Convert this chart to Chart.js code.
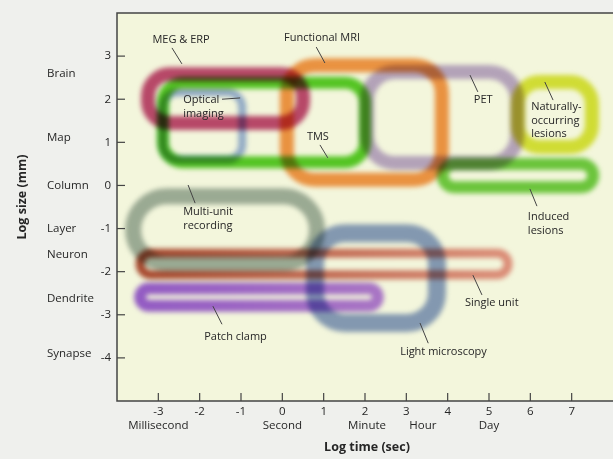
<!DOCTYPE html>
<html>
<head>
<meta charset="utf-8">
<script src="https://cdn.jsdelivr.net/npm/chart.js@4"></script>
<style>
  html, body { margin: 0; padding: 0; background: #eff0ed; }
  canvas { display: block; }
</style>
</head>
<body>
<canvas id="chart" width="613" height="459"></canvas>
<script>
// Techniques and the range each covers: log time (sec) and log size (mm)
const techniques = ["MEG & ERP", "Optical imaging", "TMS", "Functional MRI", "PET",
  "Naturally-occurring lesions", "Induced lesions", "Multi-unit recording",
  "Light microscopy", "Single unit", "Patch clamp"];
const timeMin = [-3.25, -2.89, -2.89, 0.11, 2.05, 5.70, 3.88, -3.61, 0.79, -3.44, -3.44];
const timeMax = [0.50, -0.97, 2.00, 3.86, 5.68, 7.49, 7.52, 0.84, 3.74, 5.46, 2.31];
const sizeMin = [1.45, 0.60, 0.54, 0.13, 0.52, 0.89, -0.04, -1.81, -3.19, -2.07, -2.79];
const sizeMax = [2.58, 2.16, 2.38, 2.79, 2.63, 2.40, 0.50, -0.25, -1.11, -1.57, -2.39];

const xTicks = [-3, -2, -1, 0, 1, 2, 3, 4, 5, 6, 7];
const yTicks = [3, 2, 1, 0, -1, -2, -3, -4];
const timeUnits = ["Millisecond", "Second", "Minute", "Hour", "Day"];
const timeUnitAt = [-3, 0, 2.05, 3.4, 5];
const sizeUnits = ["Brain", "Map", "Column", "Layer", "Neuron", "Dendrite", "Synapse"];
const sizeUnitAt = [2.6, 1.1, 0, -1, -1.6, -2.62, -3.9];

// look of each band (same order as techniques)
const bandStart = ["#c04a78", "#98b0e4", "#58cc28", "#f5974a", "#bca8d6", "#dbe43c", "#70cc44", "#a2b0aa", "#8a9ecc", "#b04c36", "#9a5ee2"];
const bandEnd   = ["#c04a78", "#98b0e4", "#58cc28", "#f5974a", "#bca8d6", "#dbe43c", "#70cc44", "#a2b0aa", "#8a9ecc", "#e6928a", "#b078e4"];
const bandWidth = [14, 8, 12, 14, 14, 14, 12, 16, 18, 9, 12];
const bandRadius = [22, 15, 20, 28, 28, 22, 12, 36, 30, 11, 10];

// callout labels: text lines, anchor (data units), alignment, leader line
const notes = [
  { lines: ["MEG & ERP"], x: -2.45, y: 3.37, align: "center", lead: [-2.67, 3.19, -2.43, 2.82] },
  { lines: ["Functional MRI"], x: 0.96, y: 3.42, align: "center", lead: [0.82, 3.21, 1.03, 2.84] },
  { lines: ["Optical", "imaging"], x: -2.40, y: 1.98, align: "left", lead: [-1.46, 2.0, -1.02, 2.03] },
  { lines: ["TMS"], x: 0.86, y: 1.12, align: "center", lead: [0.91, 0.94, 1.10, 0.64] },
  { lines: ["PET"], x: 4.86, y: 1.98, align: "center", lead: [4.54, 2.56, 4.73, 2.17] },
  { lines: ["Naturally-", "occurring", "lesions"], x: 6.02, y: 1.82, align: "left", lead: [6.35, 2.40, 6.55, 1.98] },
  { lines: ["Induced", "lesions"], x: 5.94, y: -0.73, align: "left", lead: [5.99, -0.08, 6.16, -0.48] },
  { lines: ["Multi-unit", "recording"], x: -2.40, y: -0.62, align: "left", lead: [-2.28, 0.01, -2.11, -0.41] },
  { lines: ["Single unit"], x: 4.42, y: -2.73, align: "left", lead: [4.61, -2.08, 4.83, -2.54] },
  { lines: ["Patch clamp"], x: -1.89, y: -3.51, align: "left", lead: [-1.68, -2.80, -1.46, -3.22] },
  { lines: ["Light microscopy"], x: 2.85, y: -3.86, align: "left", lead: [3.33, -3.19, 3.53, -3.66] }
];

const FONT = "'Open Sans', 'Noto Sans', sans-serif";
const INK = "#262626";

function roundedRect(ctx, x0, y0, x1, y1, r) {
  r = Math.min(r, (x1 - x0) / 2, (y1 - y0) / 2);
  ctx.beginPath();
  ctx.moveTo(x0 + r, y0);
  ctx.arcTo(x1, y0, x1, y1, r);
  ctx.arcTo(x1, y1, x0, y1, r);
  ctx.arcTo(x0, y1, x0, y0, r);
  ctx.arcTo(x0, y0, x1, y0, r);
  ctx.closePath();
}

// one dataset per technique: its two opposite corners
const datasets = techniques.map(function (name, i) {
  return {
    label: name,
    data: [{ x: timeMin[i], y: sizeMax[i] }, { x: timeMax[i], y: sizeMin[i] }],
    pointRadius: 0,
    showLine: false
  };
});

const bandsPlugin = {
  id: "bands",
  beforeDraw(chart) {
    const ctx = chart.ctx, a = chart.chartArea;
    ctx.save();
    ctx.fillStyle = "#eff0ed";
    ctx.fillRect(0, 0, chart.width, chart.height);
    ctx.fillStyle = "#f3f6dc";
    ctx.fillRect(a.left, a.top, a.right - a.left, a.bottom - a.top);
    ctx.restore();
  },
  afterDatasetsDraw(chart) {
    const ctx = chart.ctx;
    ctx.save();
    ctx.globalCompositeOperation = "multiply";
    ctx.filter = "blur(2.8px)";
    chart.data.datasets.forEach(function (ds, i) {
      const meta = chart.getDatasetMeta(i);
      const p0 = meta.data[0], p1 = meta.data[1];
      const x0 = Math.min(p0.x, p1.x), x1 = Math.max(p0.x, p1.x);
      const y0 = Math.min(p0.y, p1.y), y1 = Math.max(p0.y, p1.y);
      const grad = ctx.createLinearGradient(x0, 0, x1, 0);
      grad.addColorStop(0, bandStart[i]);
      grad.addColorStop(1, bandEnd[i]);
      ctx.strokeStyle = grad;
      ctx.lineWidth = bandWidth[i];
      roundedRect(ctx, x0, y0, x1, y1, bandRadius[i]);
      ctx.stroke();
    });
    ctx.restore();
  },
  afterDraw(chart) {
    const ctx = chart.ctx, a = chart.chartArea;
    const xs = chart.scales.x, ys = chart.scales.y;
    ctx.save();
    ctx.strokeStyle = "#444";
    ctx.lineWidth = 1.5;
    // frame: top, left, bottom
    ctx.beginPath();
    ctx.moveTo(a.right, a.top); ctx.lineTo(a.left, a.top);
    ctx.lineTo(a.left, a.bottom); ctx.lineTo(a.right, a.bottom);
    ctx.stroke();

    ctx.lineWidth = 1.2;
    ctx.fillStyle = INK;
    ctx.font = "11.5px " + FONT;
    // y ticks
    ctx.textAlign = "right";
    ctx.textBaseline = "middle";
    yTicks.forEach(function (v) {
      const py = ys.getPixelForValue(v);
      ctx.beginPath(); ctx.moveTo(a.left, py); ctx.lineTo(a.left + 8, py); ctx.stroke();
      ctx.fillText(String(v), a.left - 6, py);
    });
    ctx.textAlign = "left";
    sizeUnits.forEach(function (t, i) {
      ctx.fillText(t, 47, ys.getPixelForValue(sizeUnitAt[i]));
    });
    // x ticks
    ctx.textAlign = "center";
    xTicks.forEach(function (v) {
      const px = xs.getPixelForValue(v);
      ctx.beginPath(); ctx.moveTo(px, a.bottom); ctx.lineTo(px, a.bottom - 8); ctx.stroke();
      ctx.fillText(String(v), px, a.bottom + 11);
    });
    timeUnits.forEach(function (t, i) {
      ctx.fillText(t, xs.getPixelForValue(timeUnitAt[i]), a.bottom + 25);
    });

    // axis titles
    ctx.font = "bold 12.5px " + FONT;
    ctx.fillText("Log time (sec)", 367, a.bottom + 46);
    ctx.save();
    ctx.translate(22, 197);
    ctx.rotate(-Math.PI / 2);
    ctx.fillText("Log size (mm)", 0, 0);
    ctx.restore();

    // callouts
    ctx.font = "11px " + FONT;
    ctx.lineWidth = 1;
    notes.forEach(function (n) {
      ctx.textAlign = n.align;
      const px = xs.getPixelForValue(n.x), py = ys.getPixelForValue(n.y);
      n.lines.forEach(function (line, k) {
        ctx.fillText(line, px, py + k * 13.5);
      });
      ctx.beginPath();
      ctx.moveTo(xs.getPixelForValue(n.lead[0]), ys.getPixelForValue(n.lead[1]));
      ctx.lineTo(xs.getPixelForValue(n.lead[2]), ys.getPixelForValue(n.lead[3]));
      ctx.stroke();
    });
    ctx.restore();
  }
};

new Chart(document.getElementById("chart").getContext("2d"), {
  type: "scatter",
  data: { datasets: datasets },
  options: {
    responsive: false,
    animation: false,
    devicePixelRatio: 1,
    layout: { padding: { left: 117, top: 13, right: 0, bottom: 58 } },
    plugins: { legend: { display: false }, tooltip: { enabled: false } },
    scales: {
      x: { type: "linear", min: -4, max: 8, display: false },
      y: { type: "linear", min: -5, max: 4, display: false }
    }
  },
  plugins: [bandsPlugin]
});
</script>
</body>
</html>
